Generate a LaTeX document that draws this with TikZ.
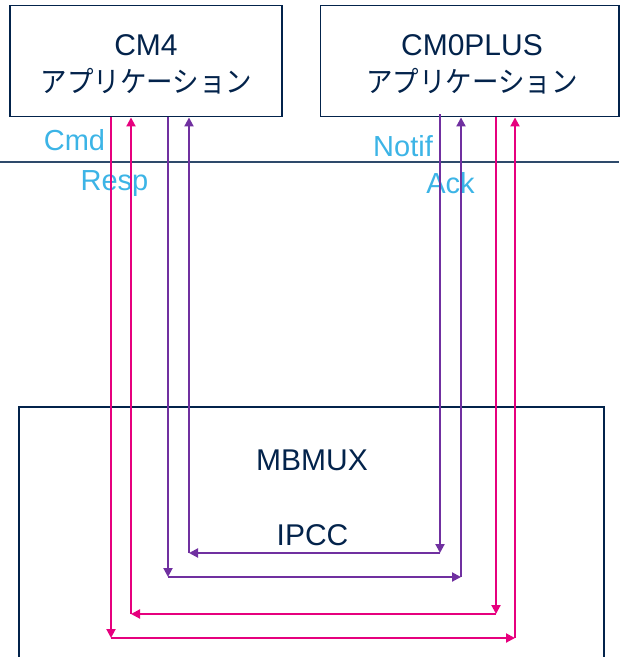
\documentclass[tikz,border=0pt]{standalone}
\usepackage{fontspec}
\setmainfont{Liberation Sans}
\newfontfamily\jpfont{Noto Sans CJK JP}
\usetikzlibrary{arrows.meta}

\definecolor{navy}{HTML}{03234B}
\definecolor{rule}{HTML}{2E4A6B}
\definecolor{sky}{HTML}{3CB4E6}
\definecolor{pinkline}{HTML}{E6007E}
\definecolor{violet}{HTML}{7030A0}

\begin{document}
\begin{tikzpicture}[x=1bp, y=-1bp,
  appbox/.style={draw=navy, line width=1.5bp, inner sep=0pt, minimum height=111bp},
  title/.style={anchor=base, text=navy, font=\fontsize{30bp}{36bp}\selectfont, inner sep=0pt},
  jptitle/.style={anchor=base, text=navy, font=\jpfont\fontsize{26.5bp}{32bp}\selectfont, inner sep=0pt},
  sig/.style={anchor=base, text=sky, font=\fontsize{29bp}{34bp}\selectfont, inner sep=0pt},
  tip/.style={-{Triangle[length=9bp,width=9bp]}},
  pk/.style={draw=pinkline, line width=2bp, tip},
  vl/.style={draw=violet, line width=2bp, tip}]
  \useasboundingbox (0,0) rectangle (624,657);

  % application boxes
  \node[appbox, minimum width=272bp] (cm4) at (146,61.2) {};
  \node[appbox, minimum width=298.3bp] (cm0) at (469.85,61.2) {};
  \node[title] (cm4t) at (146,56) {CM4};
  \node[jptitle] (cm4j) at (146.5,92.5) {\scalebox{1}[1.1]{アプリケーション}};
  \node[title] (cm0t) at (472,56) {CM0PLUS};
  \node[jptitle] (cm0j) at (472,92.5) {\scalebox{1}[1.1]{アプリケーション}};

  % separator line
  \coordinate (hl1) at (0,162);
  \coordinate (hl2) at (619,162);
  \draw[rule, line width=1.2bp] (hl1) -- (hl2);

  % MBMUX frame (open at the bottom edge)
  \coordinate (mbl) at (18.8,660);
  \coordinate (mbr) at (604,660);
  \draw[navy, line width=1.5bp] (mbl) |- (604,407) -- (mbr);
  \node[title] (mbmux) at (312,470) {MBMUX};
  \node[title] (ipcc) at (312.5,545) {IPCC};

  % signal labels
  \node[sig] (cmd) at (74.5,150) {Cmd};
  \node[sig] (resp) at (114.5,190) {Resp};
  \node[sig] (notif) at (403,156) {Notif};
  \node[sig] (ack) at (450.5,193) {Ack};

  % corner points of the four message loops
  \coordinate (a1) at (111,638);
  \coordinate (a2) at (515,638);
  \coordinate (b1) at (131,614);
  \coordinate (b2) at (496,614);
  \coordinate (c1) at (168,577);
  \coordinate (c2) at (461,577);
  \coordinate (d1) at (189,553);
  \coordinate (d2) at (440,553);

  % Cmd: CM4 -> CM0PLUS
  \draw[pk] (cm4.south -| a1) -- (a1);
  \draw[pk] (a1) -- (a2);
  \draw[pk] (a2) -- (cm0.south -| a2);
  % Resp: CM0PLUS -> CM4
  \draw[pk] (cm0.south -| b2) -- (b2);
  \draw[pk] (b2) -- (b1);
  \draw[pk] (b1) -- (cm4.south -| b1);
  % Ack: CM4 -> CM0PLUS
  \draw[vl] (cm4.south -| c1) -- (c1);
  \draw[vl] (c1) -- (c2);
  \draw[vl] (c2) -- (cm0.south -| c2);
  % Notif: CM0PLUS -> CM4
  \draw[vl] ([yshift=3bp]cm0.south -| d2) -- (d2);
  \draw[vl] (d2) -- (d1);
  \draw[vl] (d1) -- (cm4.south -| d1);
\end{tikzpicture}
\end{document}
